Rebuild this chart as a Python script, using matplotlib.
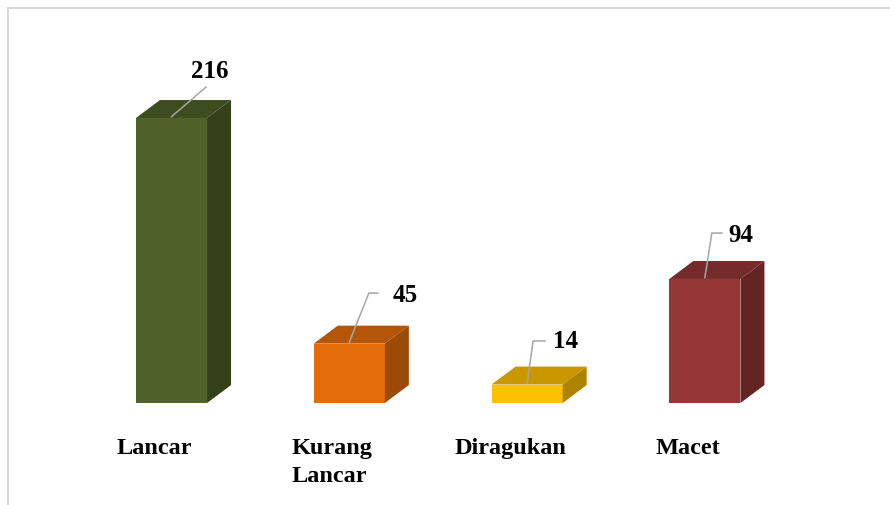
import matplotlib
matplotlib.use("Agg")
from matplotlib import pyplot as plt
from matplotlib.patches import Polygon, Rectangle

# data
categories = ["Lancar", "Kurang\nLancar", "Diragukan", "Macet"]
values = [216, 45, 14, 94]

# colours: front, top, side
front_colors = ["#4f6228", "#e46c0a", "#ffc000", "#953735"]
top_colors = ["#3e4d1f", "#b45508", "#c99700", "#752b29"]
side_colors = ["#33401a", "#9c4a07", "#ae8300", "#632422"]

# label placement (offsets from bar centre / top)
label_dx = [0.217, 0.312, 0.214, 0.203]
label_dy = [30.2, 31.5, 27.7, 28.0]
# leader line: elbow point and end of horizontal part
elbow_dx = [0.194, 0.11, 0.034, 0.039]
elbow_dy = [23.4, 38.3, 33.0, 34.8]
tail_dx = [0.194, 0.16, 0.101, 0.096]

half_w = 0.2
depth_x = 0.135
depth_y = 13.6

fig = plt.figure(figsize=(8.9, 5.05), dpi=100)
ax = fig.add_axes([0.0928, 0.2020, 0.7991, 0.6532])
ax.set_xlim(-0.5, 3.5)
ax.set_ylim(0, 250)
ax.axis("off")

serif = ["Liberation Serif", "DejaVu Serif"]

for i, v in enumerate(values):
    x0, x1 = i - half_w, i + half_w
    # front face
    ax.add_patch(Rectangle((x0, 0), 2 * half_w, v, facecolor=front_colors[i],
                           edgecolor="none", zorder=2))
    # top face
    ax.add_patch(Polygon([(x0, v), (x1, v), (x1 + depth_x, v + depth_y),
                          (x0 + depth_x, v + depth_y)],
                         facecolor=top_colors[i], edgecolor="none", zorder=2))
    # side face
    ax.add_patch(Polygon([(x1, 0), (x1 + depth_x, depth_y),
                          (x1 + depth_x, v + depth_y), (x1, v)],
                         facecolor=side_colors[i], edgecolor="none", zorder=2))

    # leader line
    ax.plot([i, i + elbow_dx[i], i + tail_dx[i]],
            [v + 1, v + elbow_dy[i], v + elbow_dy[i]],
            color="#a6a6a6", lw=1.1, zorder=3, clip_on=False)

    # value label
    ax.text(i + label_dx[i], v + label_dy[i], str(v), ha="center", va="baseline",
            fontsize=18, fontweight="bold", family=serif, color="black")

    # category label
    ax.text(i - 0.095, -26.5, categories[i], ha="center", va="top",
            multialignment="left", linespacing=1.45,
            fontsize=17.5, fontweight="bold", family=serif, color="black")

# light grey frame of the chart area
fig.add_artist(Rectangle((8 / 890, -0.05), 1.1, 1.05 - 8 / 505,
                         transform=fig.transFigure, fill=False,
                         edgecolor="#d9d9d9", lw=1.5))

fig.savefig("out.png", dpi=100)
